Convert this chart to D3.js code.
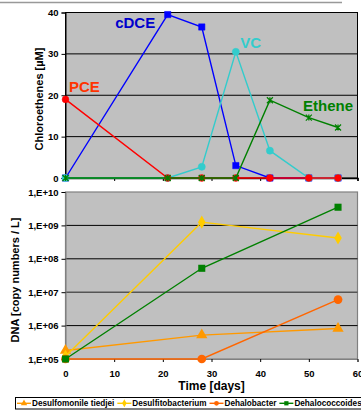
<!DOCTYPE html>
<html><head><meta charset="utf-8">
<script src="https://cdn.jsdelivr.net/npm/d3@7"></script>
<style>body{margin:0;background:#fff}svg{display:block;font-family:"Liberation Sans",Arial,sans-serif}</style>
</head><body>
<svg id="c" width="361" height="410"></svg>
<script>
// ---- data ----
const days = [0, 21, 28, 35, 42, 50, 56];
const pce = [19, 0, 0, 0, 0, 0, 0];
const cdce = [0, 39.5, 36.5, 3, 0, 0, 0];
const vc = [0, 0, 2.7, 30.5, 6.6, 0, 0];
const ethene = [0, 0, 0, 0, 18.8, 14.6, 12.2];
const chloroTicks = [0, 10, 20, 30, 40];

const dnaDays = [0, 28, 56];
const desulfomonile = [1.8e5, 5.2e5, 8.2e5];
const desulfitobacterium = [1.2e5, 1.25e9, 4.2e8];
const dehalobacter = [1e5, 1e5, 6e6];
const dehalococcoides = [1e5, 5.2e7, 3.5e9];
const dnaTicks = [1e5, 1e6, 1e7, 1e8, 1e9, 1e10];
const dayTicks = [0, 10, 20, 30, 40, 50, 60];
const dnaNames = ["Desulfomonile tiedjei", "Desulfitobacterium", "Dehalobacter", "Dehalococcoides"];

// ---- layout ----
const svg = d3.select("#c");
const X0 = 65.5, X1 = 357.5;
const x = d3.scaleLinear().domain([0, 60]).range([X0, X1]);
const yTop = d3.scaleLinear().domain([0, 40]).range([178, 12.5]);
const yBot = d3.scaleLog().domain([1e5, 1e10]).range([359, 192]);

const asterisk = {
  draw(ctx, size) {
    const r = Math.sqrt(size) / 2;
    ctx.moveTo(-r, -r); ctx.lineTo(r, r);
    ctx.moveTo(-r, r); ctx.lineTo(r, -r);
    ctx.moveTo(0, -r); ctx.lineTo(0, r);
  }
};

// top gray frame line
svg.append("line").attr("x1", 0).attr("x2", 342).attr("y1", 2.5).attr("y2", 2.5)
  .attr("stroke", "#999").attr("stroke-width", 1.5);

// ===== Top chart =====
const gT = svg.append("g");
gT.append("rect").attr("x", X0).attr("y", yTop(40)).attr("width", X1 - X0).attr("height", yTop(0) - yTop(40))
  .attr("fill", "#c0c0c0").attr("stroke", "#000").attr("stroke-width", 1);
gT.selectAll(".gr").data(chloroTicks.slice(1, -1)).join("line")
  .attr("x1", X0).attr("x2", X1).attr("y1", d => yTop(d)).attr("y2", d => yTop(d))
  .attr("stroke", "#000").attr("stroke-width", 1);
// y axis
const ayT = gT.append("g").attr("transform", `translate(${X0},0)`)
  .call(d3.axisLeft(yTop).tickValues(chloroTicks).tickSize(4).tickPadding(3));
ayT.select(".domain").attr("stroke", "#000");
ayT.selectAll("text").attr("font-size", 9.5).attr("font-weight", "bold").attr("fill", "#000")
  .attr("font-family", "Liberation Sans, Arial");
// x axis (no labels)
const axT = gT.append("g").attr("transform", `translate(0,${yTop(0)})`)
  .call(d3.axisBottom(x).tickValues(dayTicks).tickSize(3).tickFormat(""));
axT.select(".domain").attr("stroke", "#000").attr("stroke-width", 1.5);

const topSeries = [
  { vals: cdce, color: "#0000ff", sym: d3.symbolSquare, size: 40, fill: true },
  { vals: vc, color: "#33cccc", sym: d3.symbolCircle, size: 40, fill: true },
  { vals: pce, color: "#ff0000", sym: d3.symbolCircle, size: 36, fill: true },
  { vals: ethene, color: "#008000", sym: asterisk, size: 36, fill: false }
];
const lineT = d3.line().x((d, i) => x(days[i])).y(d => yTop(d));
topSeries.forEach(s => {
  gT.append("path").attr("d", lineT(s.vals)).attr("fill", "none")
    .attr("stroke", s.color).attr("stroke-width", 1.4);
  gT.selectAll(null).data(s.vals).join("path")
    .attr("transform", (d, i) => `translate(${x(days[i])},${yTop(d)})`)
    .attr("d", d3.symbol(s.sym, s.size))
    .attr("fill", s.fill ? s.color : "none")
    .attr("stroke", s.color).attr("stroke-width", s.fill ? 0.5 : 1.2);
});
// series labels
const lab = [
  { t: "cDCE", c: "#0000cc", d: 10.2, v: 36.3 },
  { t: "PCE", c: "#ff3300", d: 0.7, v: 20.9 },
  { t: "VC", c: "#33cccc", d: 35.9, v: 31.5 },
  { t: "Ethene", c: "#008000", d: 48.8, v: 16.2 }
];
gT.selectAll(".lab").data(lab).join("text")
  .attr("x", d => x(d.d)).attr("y", d => yTop(d.v)).text(d => d.t)
  .attr("fill", d => d.c).attr("font-size", 15).attr("font-weight", "bold");
// y title
svg.append("text").attr("transform", `translate(43,${99}) rotate(-90)`)
  .attr("text-anchor", "middle").attr("font-size", 11).attr("font-weight", "bold")
  .text("Chloroethenes [µM]");

// ===== Bottom chart =====
const gB = svg.append("g");
gB.append("rect").attr("x", X0).attr("y", yBot(1e10)).attr("width", X1 - X0).attr("height", yBot(1e5) - yBot(1e10))
  .attr("fill", "#c0c0c0").attr("stroke", "#808080").attr("stroke-width", 1.2);
gB.selectAll(".gr").data(dnaTicks.slice(1, -1)).join("line")
  .attr("x1", X0).attr("x2", X1).attr("y1", d => yBot(d)).attr("y2", d => yBot(d))
  .attr("stroke", d => d === 1e7 ? "#555" : "#000").attr("stroke-width", d => d === 1e7 ? 1.5 : 1);
const fmtE = d => "1,E+" + String(Math.round(Math.log10(d))).padStart(2, "0");
const ayB = gB.append("g").attr("transform", `translate(${X0},0)`)
  .call(d3.axisLeft(yBot).tickValues(dnaTicks).tickFormat(fmtE).tickSize(4).tickPadding(3));
ayB.select(".domain").attr("stroke", "#808080");
ayB.selectAll("line").attr("stroke", "#000");
ayB.selectAll("text").attr("font-size", 9.5).attr("font-weight", "bold").attr("fill", "#000")
  .attr("font-family", "Liberation Sans, Arial");
const axB = gB.append("g").attr("transform", `translate(0,${yBot(1e5)})`)
  .call(d3.axisBottom(x).tickValues(dayTicks).tickSize(3).tickPadding(8));
axB.select(".domain").attr("stroke", "#808080");
axB.selectAll("text").attr("font-size", 9.5).attr("font-weight", "bold").attr("fill", "#000")
  .attr("font-family", "Liberation Sans, Arial");
svg.append("text").attr("x", x(30)).attr("y", 390).attr("text-anchor", "middle")
  .attr("font-size", 12).attr("font-weight", "bold").text("Time [days]");
svg.append("text").attr("transform", `translate(19,${280}) rotate(-90)`)
  .attr("text-anchor", "middle").attr("font-size", 11).attr("font-weight", "bold")
  .text("DNA [copy numbers / L]");

const botSeries = [
  { name: dnaNames[0], vals: desulfomonile, color: "#ff9900", sym: d3.symbolTriangle, size: 55 },
  { name: dnaNames[1], vals: desulfitobacterium, color: "#ffcc00", sym: d3.symbolDiamond, size: 50 },
  { name: dnaNames[2], vals: dehalobacter, color: "#ff6600", sym: d3.symbolCircle, size: 60 },
  { name: dnaNames[3], vals: dehalococcoides, color: "#008000", sym: d3.symbolSquare, size: 50 }
];
const lineB = d3.line().x((d, i) => x(dnaDays[i])).y(d => yBot(d));
botSeries.forEach(s => {
  gB.append("path").attr("d", lineB(s.vals)).attr("fill", "none")
    .attr("stroke", s.color).attr("stroke-width", 1.4);
  gB.selectAll(null).data(s.vals).join("path")
    .attr("transform", (d, i) => `translate(${x(dnaDays[i])},${yBot(d)})`)
    .attr("d", d3.symbol(s.sym, s.size)).attr("fill", s.color);
});

// legend
const lg = svg.append("g");
lg.append("rect").attr("x", 15.5).attr("y", 397.5).attr("width", 346).attr("height", 11.5)
  .attr("fill", "#fff").attr("stroke", "#000").attr("stroke-width", 1);
let lx = 17;
botSeries.forEach(s => {
  const g = lg.append("g");
  g.append("line").attr("x1", lx).attr("x2", lx + 14).attr("y1", 403.3).attr("y2", 403.3)
    .attr("stroke", s.color).attr("stroke-width", 1.4);
  g.append("path").attr("transform", `translate(${lx + 7},403.3)`)
    .attr("d", d3.symbol(s.sym, 18)).attr("fill", s.color);
  const t = g.append("text").attr("x", lx + 15).attr("y", 406.3).attr("font-size", 8.2)
    .attr("font-weight", "bold").text(s.name);
  lx += 15 + t.node().getComputedTextLength() + 3;
});
</script>
</body></html>
